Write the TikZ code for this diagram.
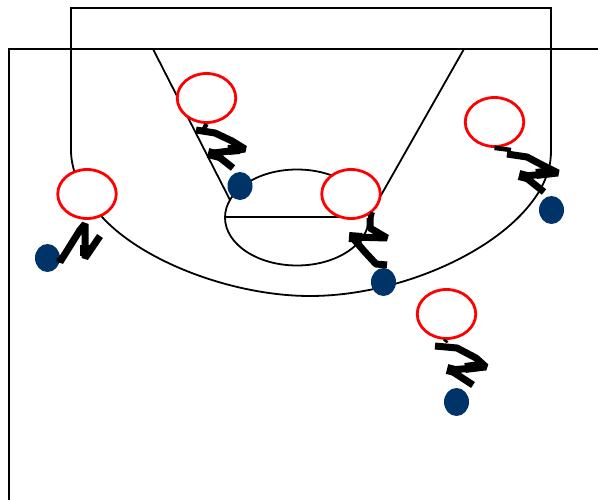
\documentclass[tikz,border=0pt]{standalone}
\definecolor{dotblue}{HTML}{003468}
\tikzset{
  court/.style={draw=black,line width=1.8pt,line join=miter},
  player/.style={ellipse,draw=red,line width=2.8pt,fill=white,minimum width=58.5pt,minimum height=49pt,inner sep=0pt},
  ball/.style={ellipse,fill=dotblue,minimum width=25pt,minimum height=28pt,inner sep=0pt},
  zig/.style={draw=black,line width=7pt,line join=bevel,line cap=butt},
  zighead/.style={draw=black,line width=10pt,line cap=butt},
  zigthin/.style={draw=black,line width=4.5pt,line cap=butt}
}
\usetikzlibrary{shapes.geometric}
\begin{document}
\begin{tikzpicture}[x=1pt,y=-1pt]
\useasboundingbox (0,0) rectangle (598,500);
% court
\draw[court] (9,500) -- (9,49) -- (598,49);
\draw[court] (272,49) -- (345,49);
\draw[court] (71,49) -- (71,8) -- (551,8) -- (551,49);
\draw[court] (71,49) -- (71,150) .. controls (71,168) and (78,190) .. (103,218)
  .. controls (145,263) and (235,296) .. (310,296)
  .. controls (400,296) and (505,250) .. (540,190)
  .. controls (548,175) and (551,165) .. (551,150) -- (551,49);
\draw[court] (153,49) -- (230,200);
\draw[court] (464,49) -- (380,197);
\draw[court] (297,217.5) ellipse [x radius=72,y radius=48];
\draw[court] (225,217) -- (345,217);
% players and balls
\node[player] (pa) at (87,194) {};
\node[player] (pb) at (206.5,98) {};
\node[player] (pc) at (351,194) {};
\node[player] (pd) at (494.5,122) {};
\node[player] (pe) at (446.5,314) {};
\node[ball] (ba) at (47.5,258) {};
\node[ball] (bb) at (240,186) {};
\node[ball] (bc) at (383.5,282) {};
\node[ball] (bd) at (551.5,210) {};
\node[ball] (be) at (456.5,402) {};
% connectors
\draw[zig] (ba.east) -- (60,262) -- (80,230) -- (85,224) -- (85,258) -- (100,236);
\draw[zighead] (85,245) -- (85,256);
\draw[zigthin] (pb.south) -- (204,129);
\draw[zig] (196,130) -- (215,133) -- (232,141) -- (245,149) -- (214,153) -- (233,168);
\draw[zighead] (208,153) -- (220,156);
\draw[zighead] (228,150) -- (240,149);
\draw[zigthin] (pc.south east) -- (370,222);
\draw[zig] (370,218) -- (370,228) -- (387,238) -- (352,237) -- (364,251) -- (376,264) -- (387,265);
\draw[zighead] (349,237) -- (362,238);
\draw[zigthin] (pd.south) -- (511,150);
\draw[zig] (507,154) -- (527,157) -- (546,167) -- (558,173) -- (524,176) -- (544,192);
\draw[zighead] (519,175) -- (531,178);
\draw[zighead] (536,174) -- (552,172);
\draw[zigthin] (pe.south) -- (445,342);
\draw[zig] (435,346) -- (457,348) -- (476,358) -- (486,367) -- (450,370) -- (473,385);
\draw[zighead] (447,369) -- (459,372);
\draw[zighead] (465,368) -- (480,366);
\end{tikzpicture}
\end{document}
